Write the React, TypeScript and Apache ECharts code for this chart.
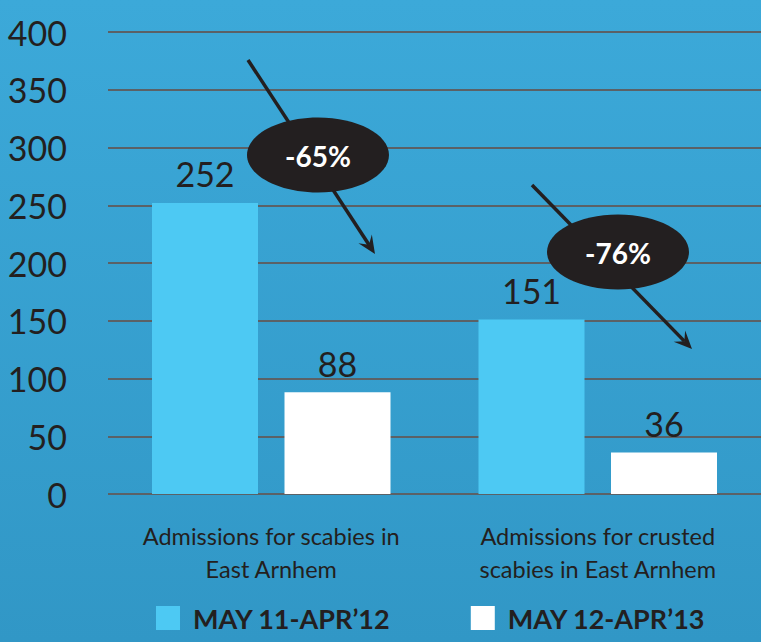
import React, { useEffect, useRef } from "react";
import * as echarts from "echarts";

const categories = ["Admissions for scabies in\nEast Arnhem", "Admissions for crusted\nscabies in East Arnhem"];
const seriesNames = ["MAY 11-APR\u201912", "MAY 12-APR\u201913"];
const period1 = [252, 151];
const period2 = [88, 36];
const changeLabels = ["-65%", "-76%"];
const yTicks = { min: 0, max: 400, interval: 50 };

const DARK = "#231f20";
const FONT = "Lato";

function arrow(x1: number, y1: number, x2: number, y2: number) {
  const dx = x2 - x1, dy = y2 - y1;
  const len = Math.sqrt(dx * dx + dy * dy);
  const ux = dx / len, uy = dy / len;
  const nx = -uy, ny = ux;
  const hl = 18, hw = 8, notch = 11;
  const endX = x2 - ux * notch, endY = y2 - uy * notch;
  return [
    {
      type: "line",
      z: 10,
      shape: { x1, y1, x2: endX, y2: endY },
      style: { stroke: DARK, lineWidth: 3.5 },
    },
    {
      type: "polygon",
      z: 10,
      shape: {
        points: [
          [x2, y2],
          [x2 - ux * hl + nx * hw, y2 - uy * hl + ny * hw],
          [x2 - ux * notch, y2 - uy * notch],
          [x2 - ux * hl - nx * hw, y2 - uy * hl - ny * hw],
        ],
      },
      style: { fill: DARK },
    },
  ];
}

function badge(cx: number, cy: number, text: string) {
  return [
    {
      type: "ellipse",
      z: 11,
      shape: { cx, cy, rx: 71, ry: 37.5 },
      style: { fill: DARK },
    },
    {
      type: "text",
      z: 12,
      x: cx,
      y: cy + 1,
      style: {
        text,
        fill: "#ffffff",
        font: `bold 28px ${FONT}`,
        align: "center",
        verticalAlign: "middle",
      },
    },
  ];
}

export default function App() {
  const ref = useRef<HTMLDivElement>(null);
  useEffect(() => {
    if (!ref.current) return;
    const chart = echarts.init(ref.current, undefined, { renderer: "svg" });
    const labelStyle = {
      show: true,
      position: "top",
      distance: 12,
      color: DARK,
      fontSize: 34,
      fontFamily: FONT,
    };
    chart.setOption({
      animation: false,
      backgroundColor: {
        type: "linear",
        x: 0,
        y: 0,
        x2: 0,
        y2: 1,
        colorStops: [
          { offset: 0, color: "#3ca9d9" },
          { offset: 1, color: "#3197c6" },
        ],
      },
      textStyle: { fontFamily: FONT },
      grid: { left: 108, right: 0, top: 32, bottom: 148, containLabel: false },
      legend: {
        data: seriesNames,
        left: 156,
        top: 604,
        padding: 0,
        itemWidth: 24,
        itemHeight: 24,
        itemGap: 80,
        icon: "rect",
        textStyle: {
          color: DARK,
          fontSize: 27,
          lineHeight: 28,
          fontWeight: "bold",
          fontFamily: FONT,
          padding: [0, 0, 0, 8],
        },
      },
      xAxis: {
        type: "category",
        data: categories,
        axisLine: { show: false },
        axisTick: { show: false },
        axisLabel: {
          color: DARK,
          fontSize: 23.5,
          fontFamily: FONT,
          lineHeight: 33,
          margin: 25,
          interval: 0,
        },
      },
      yAxis: {
        type: "value",
        min: yTicks.min,
        max: yTicks.max,
        interval: yTicks.interval,
        axisLine: { show: false },
        axisTick: { show: false },
        axisLabel: { color: DARK, fontSize: 34, fontFamily: FONT, margin: 41 },
        splitLine: { lineStyle: { color: "#5b6166", width: 2 } },
      },
      series: [
        {
          name: seriesNames[0],
          type: "bar",
          data: period1,
          barWidth: 106,
          barGap: "25%",
          itemStyle: { color: "#4dc9f3" },
          label: labelStyle,
        },
        {
          name: seriesNames[1],
          type: "bar",
          data: period2,
          barWidth: 106,
          itemStyle: { color: "#ffffff" },
          label: labelStyle,
        },
      ],
      graphic: [
        ...arrow(248, 60, 375, 254),
        ...badge(318, 155, changeLabels[0]),
        ...arrow(532, 185, 692, 349),
        ...badge(618, 252, changeLabels[1]),
      ],
    });
    return () => chart.dispose();
  }, []);
  return (
    <div
      ref={ref}
      style={{ position: "absolute", left: 0, top: 0, width: 761, height: 642 }}
    />
  );
}
